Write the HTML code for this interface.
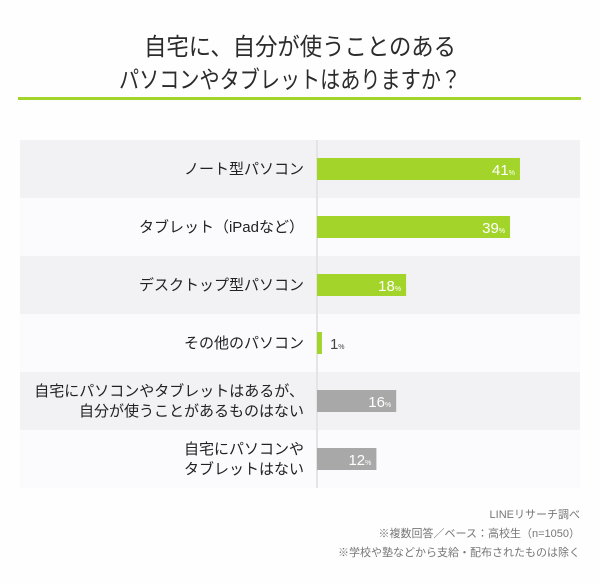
<!DOCTYPE html>
<html><head><meta charset="utf-8"><style>
body{margin:0;background:#fdfefd;width:600px;height:579px;overflow:hidden;font-family:"Liberation Sans","Noto Sans CJK JP",sans-serif;}
</style></head><body>
<svg id="chart" width="600" height="579" xmlns="http://www.w3.org/2000/svg">
<text x="300" y="55" text-anchor="middle" font-size="24" fill="#2b2b2b" textLength="312" lengthAdjust="spacingAndGlyphs" font-family="Liberation Sans, Noto Sans CJK JP, sans-serif">自宅に、自分が使うことのある</text>
<text x="290" y="88" text-anchor="middle" font-size="24" fill="#2b2b2b" textLength="342" lengthAdjust="spacingAndGlyphs" font-family="Liberation Sans, Noto Sans CJK JP, sans-serif">パソコンやタブレットはありますか？</text>
<rect x="18" y="97" width="563" height="3" fill="#a3d42a"/>
<g id="rows"></g>
<line x1="317" y1="140" x2="317" y2="488" stroke="#e4e4e6" stroke-width="2"/>
<g id="bars"></g>
<g font-size="11" fill="#777" text-anchor="end" font-family="Liberation Sans, Noto Sans CJK JP, sans-serif">
<text x="580" y="518">LINEリサーチ調べ</text>
<text x="580" y="537">※複数回答／ベース：高校生（n=1050）</text>
<text x="580" y="556">※学校や塾などから支給・配布されたものは除く</text>
</g>
</svg>
<script>
const categories = [["ノート型パソコン"],["タブレット（iPadなど）"],["デスクトップ型パソコン"],["その他のパソコン"],["自宅にパソコンやタブレットはあるが、","自分が使うことがあるものはない"],["自宅にパソコンや","タブレットはない"]];
const values = [41,39,18,1,16,12];
const colors = ["#a3d42a","#a3d42a","#a3d42a","#a3d42a","#a8a8a8","#a8a8a8"];
const NS="http://www.w3.org/2000/svg";
const x0=317, pxPer=4.95, rowTop=140, rowH=58, barH=22;
const xScale=v=>x0+v*pxPer;
const rows=document.getElementById('rows'), bars=document.getElementById('bars');
categories.forEach((lab,i)=>{
  const y=rowTop+i*rowH;
  const r=document.createElementNS(NS,'rect');
  r.setAttribute('x',20);r.setAttribute('y',y);r.setAttribute('width',560);r.setAttribute('height',rowH);
  r.setAttribute('fill',i%2==0?'#f2f1f3':'#fbfafc');
  
  
  rows.appendChild(r);
  const t=document.createElementNS(NS,'text');
  t.setAttribute('text-anchor','end');t.setAttribute('font-size','15');t.setAttribute('fill','#222');
  
  
  const cy=y+rowH/2;
  lab.forEach((s,k)=>{
    const ts=document.createElementNS(NS,'tspan');
    ts.setAttribute('x',304);
    ts.setAttribute('y',cy+5+(k-(lab.length-1)/2)*20);
    ts.textContent=s;t.appendChild(ts);
  });
  rows.appendChild(t);
  const b=document.createElementNS(NS,'rect');
  const xe=xScale(values[i]);
  b.setAttribute('x',x0);b.setAttribute('y',cy-barH/2);b.setAttribute('width',xe-x0);b.setAttribute('height',barH);
  b.setAttribute('fill',colors[i]);
  
  
  bars.appendChild(b);
  const v=document.createElementNS(NS,'text');
  const inside=values[i]>=5;
  v.setAttribute('x',inside?xe-5:xe+8);v.setAttribute('y',cy+6);
  v.setAttribute('text-anchor',inside?'end':'start');
  v.setAttribute('fill',inside?'#fff':'#444');v.setAttribute('font-size','15');
  
  
  v.innerHTML=values[i]+'<tspan font-size="7">%</tspan>';
  bars.appendChild(v);
});
</script>
</body></html>
